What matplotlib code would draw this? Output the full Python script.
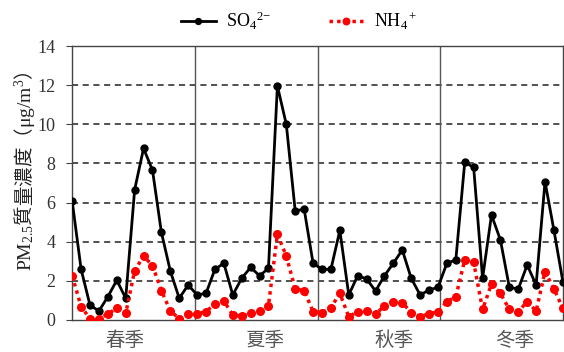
import matplotlib
matplotlib.use("Agg")
import matplotlib.pyplot as plt
import numpy as np

plt.rcParams['mathtext.fontset'] = 'custom'
plt.rcParams['mathtext.rm'] = 'Liberation Serif'
plt.rcParams['mathtext.it'] = 'Liberation Serif:italic'
plt.rcParams['mathtext.bf'] = 'Liberation Serif:bold'
plt.rcParams['font.family'] = ['Liberation Serif', 'Noto Sans CJK TC', 'DejaVu Sans']

seasons = ['春季', '夏季', '秋季', '冬季']
season_label_pos = [5.9, 21.6, 36.1, 49.6]
so4 = [6.07, 2.59, 0.75, 0.46, 1.19, 2.03, 1.11, 6.66, 8.77, 7.66, 4.48, 2.50, 1.11, 1.79,
       1.28, 1.36, 2.59, 2.90, 1.28, 2.13, 2.69, 2.26, 2.64, 11.97, 10.0, 5.57, 5.67, 2.90,
       2.59, 2.59, 4.58, 1.28, 2.26, 2.10, 1.48, 2.26, 2.90, 3.58, 2.13, 1.28, 1.53, 1.67,
       2.90, 3.07, 8.06, 7.80, 2.13, 5.37, 4.09, 1.67, 1.58, 2.81, 1.79, 7.07, 4.58, 1.96]
nh4 = [2.26, 0.68, 0.07, 0.07, 0.31, 0.60, 0.34, 2.52, 3.27, 2.78, 1.50, 0.46, 0.07, 0.31,
       0.31, 0.43, 0.82, 0.97, 0.26, 0.20, 0.34, 0.48, 0.73, 4.38, 3.27, 1.58, 1.50, 0.43,
       0.37, 0.63, 1.36, 0.17, 0.43, 0.46, 0.31, 0.71, 0.94, 0.89, 0.37, 0.17, 0.31, 0.43,
       0.94, 1.19, 3.07, 2.95, 0.54, 1.84, 1.36, 0.54, 0.43, 0.94, 0.46, 2.47, 1.58, 0.60]
yticks = [0, 2, 4, 6, 8, 10, 12, 14]

fig = plt.figure(figsize=(5.64, 3.52), dpi=100)
ax = fig.add_axes([0.128, 0.091, 0.870, 0.778])

x = np.arange(len(so4))
ax.plot(x, so4, color='black', lw=2.0, marker='o', ms=5, zorder=3,
        label='SO$_4$$^{2\\mathrm{-}}$')
ax.plot(x, nh4, color='#ff0000', lw=2.5, ls=(0, (1, 1.2)), marker='o', ms=5.5, zorder=4,
        label='NH$_4$$^+$')

n = len(so4)
per = (n - 1) / len(seasons)
for k in range(1, len(seasons)):
    ax.axvline(k * per, color='#555555', lw=1.0, zorder=2)
for yv in yticks[1:-1]:
    ax.axhline(yv, color='#222222', lw=1.1, ls=(0, (4, 3)), zorder=1)

ax.set_xlim(0, n - 1)
ax.set_ylim(0, 14)
ax.set_yticks(yticks)
ax.set_yticklabels([str(v) for v in yticks], fontsize=13, color='#333333')
ax.set_xticks(season_label_pos)
ax.set_xticklabels(seasons, fontsize=14, color='#555555', family=['Noto Sans CJK TC'])
ax.tick_params(axis='x', length=0, pad=7)
ax.tick_params(axis='y', length=4, width=0.8, color='#444444', pad=8)
for s in ax.spines.values():
    s.set_color('#444444')
    s.set_linewidth(1.0)

ax.set_ylabel('$\\mathrm{PM}_{2.5}$質量濃度（$\\mathrm{μg/m}^3$）', fontsize=14,
              family=['Noto Sans CJK TC'], color='#222222')
ax.yaxis.set_label_coords(-0.072, 0.544)

leg = fig.legend(loc='center', bbox_to_anchor=(0.531, 0.94), ncol=2, frameon=False,
                 fontsize=13, handlelength=1.9, columnspacing=3.2, handletextpad=0.6,
                 markerscale=0.85)

fig.savefig('out.png', dpi=100)
